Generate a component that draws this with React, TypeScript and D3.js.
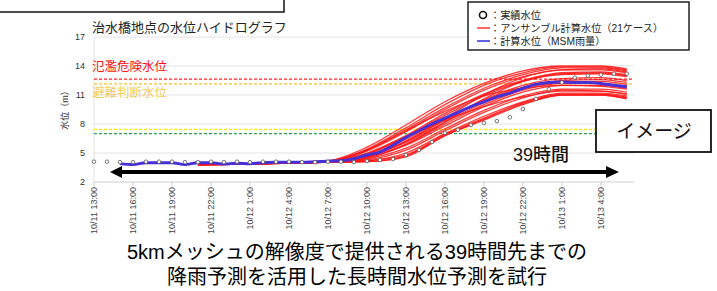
import React, { useEffect, useRef } from 'react';
import * as d3 from 'd3';

// x tick labels (every 3 hours from 10/11 13:00)
const tickLabels = [
  '10/11 13:00', '10/11 16:00', '10/11 19:00', '10/11 22:00',
  '10/12 1:00', '10/12 4:00', '10/12 7:00', '10/12 10:00',
  '10/12 13:00', '10/12 16:00', '10/12 19:00', '10/12 22:00',
  '10/13 1:00', '10/13 4:00',
];
const yTicks = [2, 5, 8, 11, 14, 17];

// observed water level, hourly from 10/11 13:00 (hour 0)
const obsHours = d3.range(0, 42);
const obsLevel = [
  4.1, 4.1, 4.05, 4.05, 4.1, 4.1, 4.1, 4.05, 4.05, 4.1,
  4.05, 4.1, 4.05, 4.1, 4.1, 4.1, 4.05, 4.05, 4.1, 4.1,
  4.07, 4.17, 4.28, 4.38, 4.79, 5.31, 6.14, 7.07, 7.4, 7.9,
  8.1, 8.3, 8.7, 9.55, 10.6, 11.6, 12.3, 12.8, 13.0, 13.1,
  13.2, 13.2,
];

// calculated level with MSM rainfall, hourly from hour 2
const msmHours = d3.range(2, 42);
const msmLevel = [
  3.9, 3.8, 4.0, 4.0, 4.0, 3.8, 4.0, 4.0, 3.85, 3.95,
  3.9, 4.0, 4.05, 4.05, 4.05, 4.1, 4.15, 4.2, 4.4, 4.8,
  5.1, 5.8, 6.6, 7.3, 8.0, 8.6, 9.2, 9.8, 10.3, 10.8,
  11.2, 11.7, 12.1, 12.3, 12.35, 12.3, 12.3, 12.2, 12.0, 11.85,
];

// ensemble (21 cases)
const ensHours = [8, 12, 15, 18, 21, 24, 27, 30, 33, 36, 39, 41];
const ensemble = [
  [3.85, 3.9, 4.0, 4.2, 5.6, 7.9, 10.3, 12.2, 13.5, 14.0, 14.0, 13.7],
  [3.85, 3.9, 4.0, 4.15, 5.4, 7.6, 10.0, 12.0, 13.3, 13.9, 13.9, 13.6],
  [3.8, 3.9, 4.0, 4.15, 5.3, 7.4, 9.7, 11.7, 13.1, 13.8, 13.8, 13.5],
  [3.8, 3.85, 3.95, 4.1, 5.2, 7.2, 9.5, 11.5, 12.9, 13.6, 13.7, 13.4],
  [3.85, 3.9, 4.0, 4.05, 4.6, 6.2, 8.6, 11.0, 12.8, 13.6, 13.6, 13.3],
  [3.8, 3.85, 4.0, 4.1, 5.0, 6.8, 9.1, 11.1, 12.5, 13.3, 13.4, 13.1],
  [3.8, 3.9, 4.0, 4.1, 4.9, 6.7, 8.9, 10.9, 12.4, 13.1, 13.2, 12.9],
  [3.85, 3.85, 3.95, 4.05, 4.5, 5.9, 8.2, 10.6, 12.4, 13.2, 13.3, 13.0],
  [3.8, 3.9, 4.0, 4.1, 4.8, 6.4, 8.5, 10.5, 12.0, 12.7, 12.8, 12.5],
  [3.8, 3.85, 3.95, 4.05, 4.7, 6.2, 8.4, 10.4, 11.8, 12.5, 12.6, 12.3],
  [3.85, 3.9, 4.0, 4.1, 4.7, 6.1, 8.2, 10.2, 11.7, 12.3, 12.4, 12.1],
  [3.8, 3.85, 4.0, 4.05, 4.6, 5.9, 8.0, 10.0, 11.5, 12.2, 12.2, 11.9],
  [3.8, 3.9, 3.95, 4.05, 4.5, 5.8, 7.8, 9.8, 11.3, 12.0, 12.0, 11.7],
  [3.85, 3.9, 4.0, 4.15, 5.3, 7.3, 9.3, 10.9, 11.7, 12.0, 11.9, 11.6],
  [3.8, 3.9, 3.95, 4.05, 4.4, 5.5, 7.5, 9.4, 10.9, 11.6, 11.6, 11.3],
  [3.8, 3.85, 4.0, 4.05, 4.3, 5.3, 7.3, 9.2, 10.7, 11.5, 11.4, 11.1],
  [3.85, 3.9, 4.0, 4.1, 4.9, 6.6, 8.4, 9.8, 10.8, 11.4, 11.4, 11.1],
  [3.8, 3.85, 4.0, 4.05, 4.2, 5.0, 7.0, 8.8, 10.3, 11.2, 11.2, 10.9],
  [3.8, 3.9, 3.95, 4.05, 4.2, 4.8, 6.9, 8.6, 10.2, 11.1, 11.1, 10.8],
  [3.85, 3.85, 4.0, 4.05, 4.1, 4.7, 6.8, 8.5, 10.1, 11.0, 11.0, 10.7],
  [3.8, 3.85, 3.95, 4.05, 4.1, 4.6, 6.8, 8.4, 10.0, 11.0, 11.0, 10.6],
];

// reference levels
const thresholdLevels = [12.65, 12.15, 7.45, 7.0];
const thresholdColors = ['#ff2020', '#f2c12e', '#f5f000', '#22a85a'];

const App = () => {
  const svgRef = useRef<SVGSVGElement | null>(null);

  useEffect(() => {
    if (!svgRef.current) return;
    const svg = d3.select(svgRef.current);
    svg.selectAll('*').remove();

    // latin glyphs from Liberation Sans, kana/kanji fall back to Noto CJK
    const font = '"Liberation Sans", "Noto Sans CJK JP", sans-serif';
    const x = d3.scaleLinear().domain([0, 41.55]).range([94, 634]);
    const y = d3.scaleLinear().domain([2, 17]).range([182, 37]);

    svg.append('rect').attr('width', 717).attr('height', 291).attr('fill', '#fff');

    // cut-off box at top left
    svg.append('rect')
      .attr('x', -4).attr('y', -20).attr('width', 288).attr('height', 32)
      .attr('fill', '#fff').attr('stroke', '#111').attr('stroke-width', 1.5);

    // title
    svg.append('text')
      .attr('x', 92).attr('y', 32)
      .attr('font-family', font).attr('font-size', 13).attr('fill', '#222')
      .text('治水橋地点の水位ハイドログラフ');

    // gridlines
    svg.append('g').selectAll('line')
      .data(yTicks)
      .enter()
      .append('line')
      .attr('x1', x(0)).attr('x2', 634)
      .attr('y1', d => y(d)).attr('y2', d => y(d))
      .attr('stroke', d => (d === 2 ? '#cfcfcf' : '#e2e2e2'))
      .attr('stroke-width', 1);
    svg.append('line')
      .attr('x1', x(0)).attr('x2', x(0)).attr('y1', y(17)).attr('y2', y(2))
      .attr('stroke', '#e2e2e2');

    // y tick labels
    svg.append('g').selectAll('text')
      .data(yTicks)
      .enter()
      .append('text')
      .attr('x', 85).attr('y', d => y(d) + 3)
      .attr('text-anchor', 'end')
      .attr('font-family', font).attr('font-size', 9).attr('fill', '#333')
      .text(d => d);

    svg.append('text')
      .attr('transform', 'translate(68,108) rotate(-90)')
      .attr('text-anchor', 'middle')
      .attr('font-family', font).attr('font-size', 9).attr('fill', '#333')
      .text('水位（m）');

    // x ticks + labels
    const xt = svg.append('g').selectAll('g')
      .data(tickLabels)
      .enter()
      .append('g')
      .attr('transform', (d, i) => `translate(${x(i * 3)},${y(2)})`);
    xt.append('line').attr('y1', 0).attr('y2', 4).attr('stroke', '#cfcfcf');
    xt.append('text')
      .attr('transform', 'translate(3,5) rotate(-90)')
      .attr('text-anchor', 'end')
      .attr('font-family', font).attr('font-size', 9).attr('fill', '#444')
      .text(d => d);

    // threshold lines
    svg.append('g').selectAll('line')
      .data(thresholdLevels)
      .enter()
      .append('line')
      .attr('x1', x(0)).attr('x2', 634)
      .attr('y1', d => y(d)).attr('y2', d => y(d))
      .attr('stroke', (d, i) => thresholdColors[i])
      .attr('stroke-width', 1.2)
      .attr('stroke-dasharray', '3,2');

    svg.append('text')
      .attr('x', 92).attr('y', 71)
      .attr('font-family', font).attr('font-size', 12.5).attr('fill', '#ff1010')
      .text('氾濫危険水位');
    svg.append('text')
      .attr('x', 92).attr('y', 97)
      .attr('font-family', font).attr('font-size', 12.5).attr('fill', '#f3cb55')
      .text('避難判断水位');

    // ensemble lines
    const ensLine = d3.line<number>()
      .x((d, i) => x(ensHours[i]))
      .y(d => y(d))
      .curve(d3.curveMonotoneX);
    svg.append('g').selectAll('path')
      .data(ensemble)
      .enter()
      .append('path')
      .attr('d', d => ensLine(d))
      .attr('fill', 'none')
      .attr('stroke', '#ff1414')
      .attr('stroke-opacity', 0.85)
      .attr('stroke-width', 1.3);

    // MSM line
    const msmLine = d3.line<number>()
      .x((d, i) => x(msmHours[i]))
      .y(d => y(d))
      .curve(d3.curveMonotoneX);
    svg.append('path')
      .attr('d', msmLine(msmLevel))
      .attr('fill', 'none')
      .attr('stroke', '#4630d8')
      .attr('stroke-width', 3);

    // observed
    svg.append('g').selectAll('circle')
      .data(obsLevel)
      .enter()
      .append('circle')
      .attr('cx', (d, i) => x(obsHours[i]))
      .attr('cy', d => y(d))
      .attr('r', 1.8)
      .attr('fill', '#fff')
      .attr('stroke', '#555')
      .attr('stroke-width', 0.8);

    // 39 hour arrow
    const arrowY = 172;
    svg.append('line')
      .attr('x1', 120).attr('x2', 608).attr('y1', arrowY).attr('y2', arrowY)
      .attr('stroke', '#000').attr('stroke-width', 4);
    svg.append('path')
      .attr('d', `M110,${arrowY} L122,${arrowY - 6} L122,${arrowY + 6} Z`)
      .attr('fill', '#000');
    svg.append('path')
      .attr('d', `M619,${arrowY} L606,${arrowY - 6} L606,${arrowY + 6} Z`)
      .attr('fill', '#000');
    svg.append('text')
      .attr('x', 541).attr('y', 161)
      .attr('text-anchor', 'middle')
      .attr('font-family', font).attr('font-size', 18).attr('font-weight', 500).attr('fill', '#111')
      .text('39時間');

    // image box
    svg.append('rect')
      .attr('x', 596).attr('y', 110).attr('width', 115).attr('height', 42)
      .attr('fill', '#fff').attr('stroke', '#111').attr('stroke-width', 1.8);
    svg.append('text')
      .attr('x', 654).attr('y', 138)
      .attr('text-anchor', 'middle')
      .attr('font-family', font).attr('font-size', 19).attr('fill', '#111')
      .text('イメージ');

    // legend
    const lg = svg.append('g');
    lg.append('rect')
      .attr('x', 468).attr('y', 2).attr('width', 221).attr('height', 48)
      .attr('fill', '#fff').attr('stroke', '#222').attr('stroke-width', 1.5);
    lg.append('circle')
      .attr('cx', 483).attr('cy', 15).attr('r', 3.5)
      .attr('fill', '#fff').attr('stroke', '#111').attr('stroke-width', 1.6);
    lg.append('line')
      .attr('x1', 477).attr('x2', 490).attr('y1', 28).attr('y2', 28)
      .attr('stroke', '#ff3030').attr('stroke-width', 1.5);
    lg.append('line')
      .attr('x1', 477).attr('x2', 490).attr('y1', 41).attr('y2', 41)
      .attr('stroke', '#3030e0').attr('stroke-width', 1.5);
    const legendTexts = ['：実績水位', '：アンサンブル計算水位（21ケース）', '：計算水位（MSM雨量）'];
    lg.selectAll('text.lt')
      .data(legendTexts)
      .enter()
      .append('text')
      .attr('class', 'lt')
      .attr('x', 490).attr('y', (d, i) => 18.5 + i * 13)
      .attr('font-family', font).attr('font-size', 10.2).attr('fill', '#222')
      .text(d => d);

    // caption
    const caption = ['5kmメッシュの解像度で提供される39時間先までの', '降雨予測を活用した長時間水位予測を試行'];
    svg.append('g').selectAll('text')
      .data(caption)
      .enter()
      .append('text')
      .attr('x', 357).attr('y', (d, i) => 259 + i * 25)
      .attr('text-anchor', 'middle')
      .attr('font-family', font).attr('font-size', 20).attr('fill', '#000')
      .text(d => d);
  }, []);

  return (
    <svg
      ref={svgRef}
      width={717}
      height={291}
      style={{ position: 'absolute', left: 0, top: 0 }}
    />
  );
};

export default App;
